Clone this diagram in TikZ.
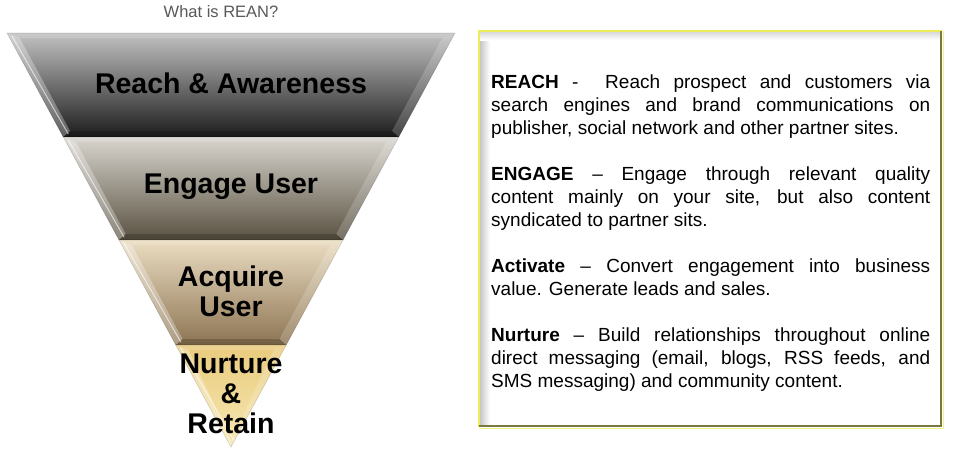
\documentclass[tikz,border=0pt]{standalone}
\usepackage{fontspec}
\setmainfont{Liberation Sans}
\usetikzlibrary{calc}
\definecolor{titlegray}{HTML}{595959}
\definecolor{boxyellow}{HTML}{EDED5A}
\definecolor{boxolive}{HTML}{7A7A3C}
\definecolor{bOneT}{HTML}{C2C2C2}
\definecolor{bOneM}{HTML}{8E8E8E}
\definecolor{bOneB}{HTML}{1C1C1C}
\definecolor{bTwoT}{HTML}{D8D5CE}
\definecolor{bTwoM}{HTML}{ABA69B}
\definecolor{bTwoB}{HTML}{5A5242}
\definecolor{bThreeT}{HTML}{EBDDC2}
\definecolor{bThreeM}{HTML}{C8B18D}
\definecolor{bThreeB}{HTML}{8C7452}
\definecolor{bFourT}{HTML}{E9CB7C}
\definecolor{bFourM}{HTML}{F2DC98}
\definecolor{bFourB}{HTML}{F7E8B4}
\tikzset{
  bandlabel/.style={font=\fontsize{28.5}{30}\selectfont\bfseries, align=center, inner sep=0pt, text=black},
  desc/.style={font=\fontsize{19}{23}\selectfont, text width=439pt, align=justify, inner sep=0pt, anchor=north west}
}
\newcommand\funnelband[6]{%
  \pgfmathsetmacro\hwt{224/414*(447-#1)}%
  \pgfmathsetmacro\hwb{224/414*(447-#2)}%
  \pgfmathsetmacro\yit{#1+5}%
  \pgfmathsetmacro\yib{#2-6}%
  \pgfmathsetmacro\hwit{224/414*(447-\yit)-10}%
  \pgfmathsetmacro\hwib{max(224/414*(447-\yib)-10,0)}%
  \shade[top color=#3, middle color=#4, bottom color=#5]
    (231-\hwt,#1) -- (231+\hwt,#1) -- (231+\hwb,#2) -- (231-\hwb,#2) -- cycle;
  \fill[white, opacity=0.3]
    (231-\hwt,#1) -- (231-\hwit,\yit) -- (231-\hwib,\yib) -- (231-\hwb,#2) -- cycle;
  \fill[white, opacity=0.18]
    (231+\hwt,#1) -- (231+\hwit,\yit) -- (231+\hwib,\yib) -- (231+\hwb,#2) -- cycle;
  \fill[white, opacity=0.15]
    (231-\hwt,#1) -- (231+\hwt,#1) -- (231+\hwit,\yit) -- (231-\hwit,\yit) -- cycle;
  \fill[black, opacity=0.18]
    (231-\hwb,#2) -- (231+\hwb,#2) -- (231+\hwib,\yib) -- (231-\hwib,\yib) -- cycle;
  \draw[white, opacity=0.6, line width=1pt]
    (231-\hwt+5,#1+3) -- (231-\hwb+5,#2-3);
  \draw[black, opacity=0.15, line width=0.6pt]
    (231-\hwt,#1) -- (231+\hwt,#1) -- (231+\hwb,#2) -- (231-\hwb,#2) -- cycle;
  \coordinate (#6) at (231,{(#1+#2)/2});
}
\begin{document}
\begin{tikzpicture}[x=1pt, y=-1pt]
\useasboundingbox (0,0) rectangle (960,459);
\fill[white] (0,0) rectangle (960,459);

% title
\node[font=\fontsize{16.5}{18}\selectfont, text=titlegray, inner sep=0pt] (title) at (221,12) {What is REAN?};

% funnel bands
\funnelband{33}{137}{bOneT}{bOneM}{bOneB}{b1}
\funnelband{137}{240}{bTwoT}{bTwoM}{bTwoB}{b2}
\funnelband{240}{345}{bThreeT}{bThreeM}{bThreeB}{b3}
\funnelband{345}{447}{bFourT}{bFourM}{bFourB}{b4}

% labels
\node[bandlabel] (l1) at (231,83) {Reach \& Awareness};
\node[bandlabel] (l2) at (231,187) {Engage User};
\node[bandlabel] (l3) at (231,291) {Acquire\\User};
\node[bandlabel] (l4) at (231,394) {Nurture\\\&\\Retain};

% description box
\fill[white] (479,31) rectangle (942,427);
\shade[left color=black!22, right color=white] (480,32) rectangle (490,426);
\shade[top color=black!15, bottom color=white] (480,32) rectangle (941,40);
\draw[boxyellow, line width=2pt] (479,427) -- (479,31) -- (942,31);
\draw[boxolive, line width=1.5pt] (941,31) -- (941,426) -- (479,426);
\draw[boxyellow!70, line width=1pt] (943,31) -- (943,428) -- (479,428);

\node[desc] (txt) at (491,75) {%
\textbf{REACH} -\ \ Reach prospect and customers via\linebreak
search engines and brand communications on\linebreak
publisher, social network and other partner sites.\par
\vspace{23pt}
\textbf{ENGAGE} -- Engage through relevant quality\linebreak
content mainly on your site, but also content\linebreak
syndicated to partner sits.\par
\vspace{23pt}
\textbf{Activate} -- Convert engagement into business\linebreak
value. Generate leads and sales.\par
\vspace{23pt}
\textbf{Nurture} -- Build relationships throughout online\linebreak
direct messaging (email, blogs, RSS feeds, and\linebreak
SMS messaging) and community content.};
\end{tikzpicture}
\end{document}
